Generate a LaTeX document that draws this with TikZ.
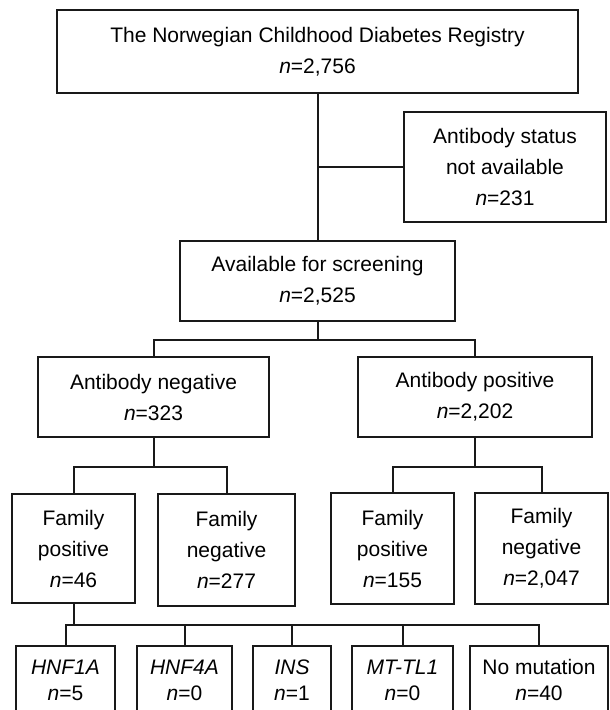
\documentclass[tikz,border=0pt]{standalone}
\usepackage{fontspec}
\setmainfont{Liberation Sans}

\begin{document}
\begin{tikzpicture}[x=0.5pt, y=-0.5pt,
  font=\fontsize{10.5}{15.5}\selectfont,
  box/.style={draw=black!90, line width=1pt, align=center, inner sep=0pt},
  genebox/.style={box, font=\fontsize{10.5}{13}\selectfont, minimum height=34pt},
  link/.style={draw=black!90, line width=1pt}]
\clip (0,0) rectangle (609,710);
% --- registry and screening ---
\node[box, minimum width=260.5pt, minimum height=41.5pt] (registry) at (317.5,51.5)
  {The Norwegian Childhood Diabetes Registry\\\textit{n}=2,756};
\node[box, minimum width=101pt, minimum height=55pt] (nostatus) at (505,167)
  {Antibody status\\not available\\\textit{n}=231};
\node[box, minimum width=137.5pt, minimum height=40pt] (avail) at (317.5,281)
  {Available for screening\\\textit{n}=2,525};
\draw[link] (registry) -- (avail);
\draw[link] (registry.south |- nostatus.west) -- (nostatus.west);
% --- antibody status ---
\node[box, minimum width=115.5pt, minimum height=40pt] (abneg) at (153.5,397)
  {Antibody negative\\\textit{n}=323};
\node[box, minimum width=117pt, minimum height=40pt] (abpos) at (475,397)
  {Antibody positive\\\textit{n}=2,202};
\draw[link] (avail.south) -- ++(0,18) coordinate (splitab);
\draw[link] (abneg.north) |- (splitab) -| (abpos.north);
% --- family history ---
\node[box, minimum width=61.5pt, minimum height=54.5pt] (negfampos) at (73.5,548.5)
  {Family\\positive\\\textit{n}=46};
\node[box, minimum width=68.5pt, minimum height=56pt] (negfamneg) at (226.5,550)
  {Family\\negative\\\textit{n}=277};
\node[box, minimum width=61.5pt, minimum height=55.5pt] (posfampos) at (392.5,548.5)
  {Family\\positive\\\textit{n}=155};
\node[box, minimum width=66.5pt, minimum height=55.5pt] (posfamneg) at (541.5,548.5)
  {Family\\negative\\\textit{n}=2,047};
\draw[link] (abneg.south) -- ++(0,29) coordinate (splitneg);
\draw[link] (negfampos.north) |- (splitneg) -| (negfamneg.north);
\draw[link] (abpos.south) -- ++(0,29) coordinate (splitpos);
\draw[link] (posfampos.north) |- (splitpos) -| (posfamneg.north);
% --- mutation screening ---
\node[genebox, minimum width=49.5pt] (hnfa) at (65.5,680) {\textit{HNF1A}\\\textit{n}=5};
\node[genebox, minimum width=47.5pt] (hnfb) at (184.5,680) {\textit{HNF4A}\\\textit{n}=0};
\node[genebox, minimum width=39pt] (ins) at (292,680) {\textit{INS}\\\textit{n}=1};
\node[genebox, minimum width=50.5pt] (mttl) at (402.5,680) {\textit{MT-TL1}\\\textit{n}=0};
\node[genebox, minimum width=69pt] (nomut) at (539,680) {No mutation\\\textit{n}=40};
\draw[link] (negfampos.south) -- ++(0,21) coordinate (splitgene);
\draw[link] (hnfa.north) |- (splitgene) -| (nomut.north);
\foreach \g in {hnfb, ins, mttl}
  \draw[link] (\g.north) -- (\g.north |- splitgene);
\end{tikzpicture}
\end{document}
